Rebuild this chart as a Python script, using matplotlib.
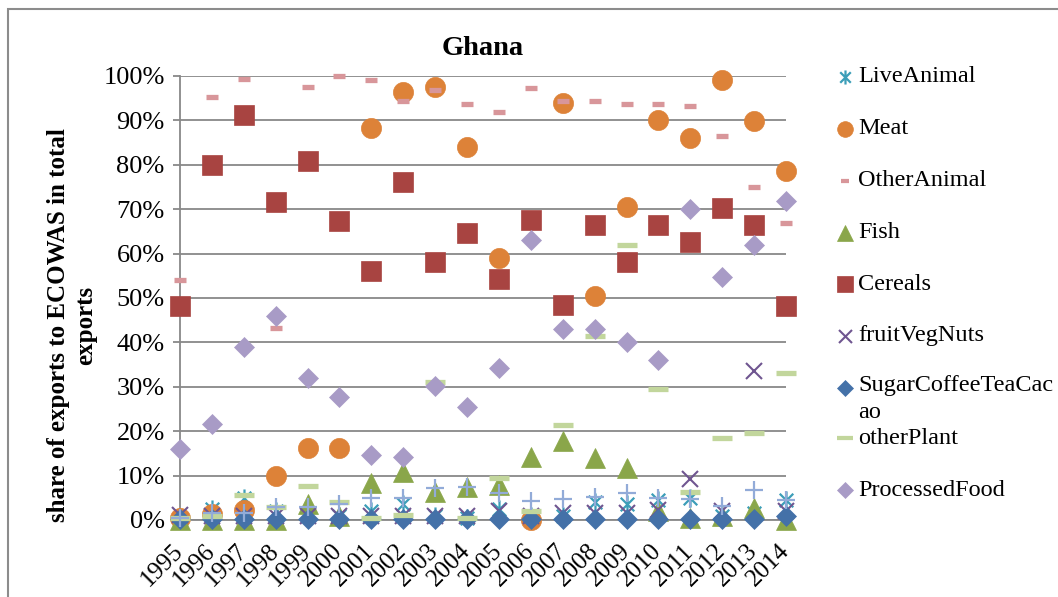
import matplotlib
matplotlib.use("Agg")
import matplotlib.pyplot as plt
from matplotlib.path import Path
from matplotlib.lines import Line2D
from matplotlib.patches import Rectangle
from matplotlib.ticker import PercentFormatter, MultipleLocator
from matplotlib.transforms import ScaledTranslation

plt.rcParams['font.family'] = ['Liberation Serif', 'DejaVu Serif']

years = list(range(1995, 2015))

live_animal = [0.5, 2.5, 5.0, 2.0, 1.5, 1.0, 2.0, 3.5, 1.0, 0.5, 2.5, 1.0, 1.0, 4.0, 3.5, 4.5, 5.0, 1.0, 1.5, 4.5]
meat = [0.5, 1.3, 2.3, 10.0, 16.2, 16.2, 88.2, 96.5, 97.5, 84.0, 59.0, 0.0, 94.0, 50.5, 70.5, 90.0, 86.0, 99.0, 89.8, 78.5]
other_animal = [54.0, 95.2, 99.4, 43.2, 97.6, 100.0, 99.0, 94.4, 96.8, 93.6, 92.0, 97.4, 94.4, 94.4, 93.6, 93.6, 93.2, 86.4, 75.0, 67.0]
fish = [0.0, 0.0, 0.0, 0.0, 3.5, 1.0, 8.3, 10.8, 6.4, 7.5, 7.8, 14.2, 17.8, 14.0, 11.7, 2.0, 0.5, 1.0, 2.7, 0.0]
cereals = [48.2, 80.0, 91.2, 71.6, 80.9, 67.4, 56.0, 76.2, 58.2, 64.6, 54.2, 67.6, 48.5, 66.4, 58.2, 66.5, 62.6, 70.3, 66.5, 48.2]
fruit_veg_nuts = [1.2, 1.0, 1.0, 1.0, 1.0, 1.0, 1.0, 1.0, 1.0, 1.0, 2.0, 1.0, 1.5, 1.5, 1.5, 2.3, 9.3, 2.0, 33.6, 2.0]
sugar_coffee = [0.3, 0.3, 0.3, 0.3, 0.3, 0.3, 0.3, 0.3, 0.3, 0.3, 0.3, 0.3, 0.3, 0.3, 0.3, 0.3, 0.3, 0.3, 0.3, 0.8]
other_plant = [0.5, 1.0, 5.6, 3.0, 7.6, 4.0, 0.5, 1.2, 31.0, 0.5, 9.5, 2.0, 21.5, 41.5, 62.0, 29.6, 6.2, 18.4, 19.6, 33.0]
processed_food = [16.0, 21.6, 39.0, 46.0, 32.0, 27.8, 14.6, 14.2, 30.2, 25.4, 34.2, 63.0, 43.0, 43.0, 40.2, 36.0, 70.0, 54.8, 62.0, 71.8]
other_series = [0.5, 1.5, 1.5, 3.0, 3.0, 3.7, 5.0, 5.0, 7.2, 7.5, 6.0, 4.3, 4.7, 5.2, 6.1, 4.9, 4.8, 3.2, 6.8, 4.5]

star_path = Path([(0, -1), (0, 1), (-0.75, -0.75), (0.75, 0.75), (-0.75, 0.75), (0.75, -0.75)],
                 [Path.MOVETO, Path.LINETO, Path.MOVETO, Path.LINETO, Path.MOVETO, Path.LINETO])

series = [
    ("LiveAnimal", live_animal, dict(marker=star_path, ms=13, mfc='none', mec='#3C9EB8', mew=1.6)),
    ("Meat", meat, dict(marker='o', ms=14.5, mfc='#DD8238', mec='#DD8238', mew=0.5)),
    ("OtherAnimal", other_animal, dict(marker='_', ms=8.5, mec='#D8969A', mew=3.8)),
    ("Fish", fish, dict(marker='^', ms=15, mfc='#8AA64A', mec='#8AA64A', mew=0.5)),
    ("Cereals", cereals, dict(marker='s', ms=14.2, mfc='#A84441', mec='#A84441', mew=0.5)),
    ("fruitVegNuts", fruit_veg_nuts, dict(marker='x', ms=12, mec='#6F5590', mew=1.5)),
    ("SugarCoffeeTeaCac\nao", sugar_coffee, dict(marker='D', ms=10.3, mfc='#4471A8', mec='#4471A8', mew=0.5)),
    ("otherPlant", other_plant, dict(marker='_', ms=14.5, mec='#C2D69C', mew=3.8)),
    ("ProcessedFood", processed_food, dict(marker='D', ms=10.3, mfc='#A89BC6', mec='#A89BC6', mew=0.5)),
    ("", other_series, dict(marker='+', ms=13, mec='#92ABD8', mew=1.6)),
]

W, H = 1058, 597
fig = plt.figure(figsize=(W / 100, H / 100), dpi=100)
ax = fig.add_axes([180 / W, 1 - 520 / H, (786 - 180) / W, (520 - 76) / H])

for name, vals, st in series:
    ax.plot(years, [v / 100 for v in vals], linestyle='none', clip_on=False, zorder=3, **st)

ax.set_xlim(1995, 2014)
ax.set_ylim(0, 1.0)
ax.yaxis.set_major_locator(MultipleLocator(0.1))
ax.yaxis.set_major_formatter(PercentFormatter(1.0, decimals=0))
ax.set_xticks(years)
ax.set_xticklabels([str(y) for y in years], rotation=45, ha='right', va='center', rotation_mode='anchor')
offset = ScaledTranslation(-9 / 100, 0, fig.dpi_scale_trans)
for lab in ax.get_xticklabels():
    lab.set_transform(lab.get_transform() + offset)
grid_c = '#888888'
ax.grid(axis='y', color=grid_c, linewidth=1.3)
ax.set_axisbelow(True)
for s in ['top', 'right']:
    ax.spines[s].set_visible(False)
for s in ['left', 'bottom']:
    ax.spines[s].set_color(grid_c)
    ax.spines[s].set_linewidth(1.3)
ax.tick_params(axis='y', length=5, width=1.3, color=grid_c, labelsize=19, pad=6)
ax.tick_params(axis='x', length=0, labelsize=18, pad=20)
ax.set_title("Ghana", fontsize=20.5, fontweight='bold', pad=15)

fig.text(72 / W, 1 - 325 / H, "share of exports to ECOWAS in total\nexports", rotation=90,
         ha='center', va='center', ma='center', fontsize=18, fontweight='bold', linespacing=1.2)

# legend (first nine series)
leg_y = [77, 129, 181, 233, 284, 336, 388, 438, 490]
for (name, vals, st), y in zip(series[:9], leg_y):
    st2 = dict(st)
    st2['ms'] = st['ms'] * 0.78
    if st['marker'] == '_':
        st2['ms'] = st['ms'] * 0.75
        st2['mew'] = st['mew'] * 0.8
    fig.add_artist(Line2D([845 / W], [1 - y / H], transform=fig.transFigure, linestyle='none', **st2))
    if "\n" in name:
        fig.text(858 / W, 1 - (y - 13) / H, name, ha='left', va='top', fontsize=17.5, linespacing=1.35)
    else:
        fig.text(858 / W, 1 - y / H, name, ha='left', va='center', fontsize=17.5)

fig.add_artist(Rectangle((7.5 / W, -0.1), 1.2, 1 - 8.5 / H + 0.1, transform=fig.transFigure,
                         fill=False, edgecolor='#8C8C8C', linewidth=1.5))

fig.savefig("out.png", dpi=100)
